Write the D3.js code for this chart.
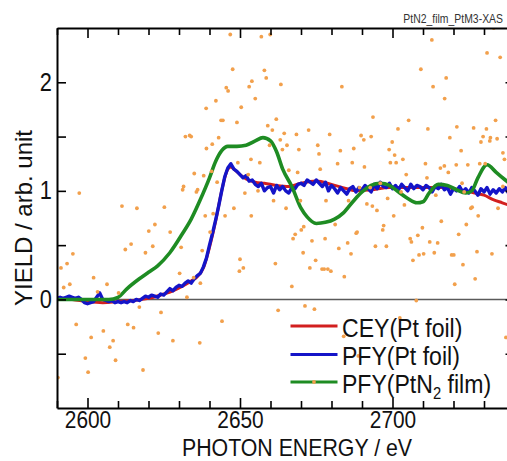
<!DOCTYPE html>
<html>
<head>
<meta charset="utf-8">
<script src="https://cdn.jsdelivr.net/npm/d3@7"></script>
<style>
  body { margin: 0; background: #fff; }
  svg { display: block; }
  text { font-family: "Liberation Sans", Arial, sans-serif; }
</style>
</head>
<body>
<svg id="chart"></svg>
<script>
// values
const xTickLabels = [2600, 2650, 2700];
const yTickLabels = [0, 1, 2];
const seriesNames = ["CEY(Pt foil)", "PFY(Pt foil)", "PFY(PtN2 film)"];

// CEY(Pt foil) - smooth red trace  [eV, yield]
const ceyPtFoil = [
  [2590,0.01],[2595,0.0],[2600,-0.02],[2605,-0.03],[2610,-0.02],[2615,-0.01],[2620,0.01],
  [2625,0.05],[2628,0.08],[2631,0.12],[2634,0.17],[2636,0.21],[2638,0.29],[2640,0.48],
  [2642,0.72],[2644,1.0],[2645,1.12],[2646,1.2],[2647,1.22],[2648,1.2],[2650,1.15],
  [2652,1.11],[2655,1.08],[2658,1.07],[2662,1.05],[2666,1.04],[2670,1.07],[2675,1.09],
  [2680,1.06],[2685,1.02],[2688,1.0],[2693,1.01],[2699,1.03],[2705,1.03],[2710,1.03],
  [2716,1.03],[2720,1.02],[2724,1.0],[2727,0.98],[2730,0.96],[2733,0.92],[2736,0.89],
  [2740,0.85]
];

// PFY(Pt foil) - noisy blue trace
const pfyPtFoil = [
  [2590,0.01],[2591,0.02],[2592,0.01],[2593,0.02],[2594,0.03],[2595,0.02],[2596,0.01],
  [2597,0.02],[2598,0.0],[2599,-0.03],[2600,-0.04],[2601,-0.03],[2602,-0.02],[2603,0.02],
  [2604,0.06],[2605,0.0],[2606,-0.01],[2607,-0.02],[2608,-0.01],[2609,-0.03],[2610,-0.02],
  [2611,-0.03],[2612,-0.02],[2613,-0.03],[2614,-0.01],[2615,-0.02],[2616,0.0],[2617,-0.01],
  [2618,0.01],[2619,0.03],[2620,0.02],[2621,0.04],[2622,0.03],[2623,0.02],[2624,0.05],
  [2625,0.04],[2626,0.07],[2627,0.10],[2628,0.08],[2629,0.11],[2630,0.13],[2631,0.12],
  [2632,0.15],[2633,0.17],[2634,0.15],[2635,0.19],[2636,0.22],[2637,0.24],[2638,0.30],
  [2639,0.38],[2640,0.50],[2641,0.61],[2642,0.73],[2643,0.86],[2644,1.00],[2645,1.13],
  [2646,1.21],[2647,1.25],[2648,1.20],[2649,1.18],[2650,1.15],[2651,1.12],[2652,1.14],
  [2653,1.09],[2654,1.10],[2655,1.06],[2656,1.04],[2657,1.07],[2658,1.00],[2659,1.03],
  [2660,1.04],[2661,0.98],[2662,1.05],[2663,1.01],[2664,1.04],[2665,1.00],[2666,0.98],
  [2667,1.03],[2668,1.02],[2669,1.06],[2670,1.07],[2671,1.05],[2672,1.10],[2673,1.08],
  [2674,1.06],[2675,1.10],[2676,1.07],[2677,1.04],[2678,1.08],[2679,1.00],[2680,1.05],
  [2681,1.02],[2682,0.98],[2683,1.03],[2684,1.00],[2685,0.97],[2686,1.02],[2687,1.04],
  [2688,0.99],[2689,1.03],[2690,1.01],[2691,1.05],[2692,1.02],[2693,0.99],[2694,1.06],
  [2695,1.02],[2696,1.08],[2697,1.04],[2698,1.03],[2699,1.07],[2700,1.02],[2701,1.05],
  [2702,1.01],[2703,1.06],[2704,1.03],[2705,1.00],[2706,1.06],[2707,1.02],[2708,1.05],
  [2709,1.04],[2710,1.01],[2711,1.05],[2712,1.03],[2713,0.99],[2714,1.04],[2715,1.02],
  [2716,1.06],[2717,1.01],[2718,1.03],[2719,0.97],[2720,1.02],[2721,1.00],[2722,1.04],
  [2723,0.99],[2724,1.02],[2725,0.98],[2726,1.03],[2727,1.00],[2728,0.96],[2729,1.02],
  [2730,0.99],[2731,1.03],[2732,0.97],[2733,1.01],[2734,0.98],[2735,1.02],[2736,0.99],
  [2737,1.03],[2738,0.98],[2739,1.01],[2740,1.00]
];

// PFY(PtN2 film) - smoothed green trace
const pfyPtN2Film = [
  [2590,0],[2600,0],[2607,0],[2610,0.02],[2613,0.1],[2617,0.19],[2620,0.25],[2623,0.31],
  [2627,0.43],[2631,0.6],[2634,0.74],[2637,0.92],[2640,1.12],[2642,1.27],[2644,1.37],
  [2646,1.41],[2649,1.41],[2652,1.42],[2655,1.46],[2657.5,1.49],[2660,1.46],[2662,1.36],
  [2664,1.2],[2667,1.04],[2670,0.84],[2672,0.76],[2675,0.70],[2678,0.71],[2681,0.74],
  [2684,0.80],[2687,0.90],[2690,0.99],[2693,1.05],[2696,1.07],[2699,1.05],[2702,0.99],
  [2705,0.93],[2708,0.89],[2710,0.90],[2712,0.98],[2715,1.06],[2718,1.05],[2721,1.01],
  [2724,0.98],[2726,1.00],[2728,1.12],[2731,1.24],[2734,1.17],[2737,1.10],[2740,1.03]
];

// PFY(PtN2 film) raw points - orange dots
const pfyPtN2Raw = [
  [2638.9,1.76],[2632.1,1.50],[2633.5,1.51],[2634.0,1.50],[2639.0,1.39],[2635.0,1.16],
  [2638.1,1.14],[2631.5,1.04],[2631.2,1.01],[2635.7,0.99],[2636.1,1.01],[2597.3,0.98],
  [2611.3,0.86],[2616.2,0.84],[2625.2,0.85],[2622.1,0.69],[2620.1,0.63],[2627.1,0.62],
  [2614.3,0.51],[2612.4,0.46],[2619.0,0.43],[2621.4,0.49],[2630.7,0.48],[2637.6,0.45],
  [2595.2,0.42],[2593.3,0.33],[2591.3,0.29],[2602.0,0.20],[2606.4,0.14],[2594.2,0.14],
  [2592.2,0.11],[2630.2,0.24],[2634.8,0.20],[2637.0,0.15],[2603.3,0.07],[2610.2,0.06],
  [2632.6,0.02],[2617.0,-0.07],[2624.1,-0.12],[2596.3,-0.23],[2613.2,-0.23],[2615.1,-0.26],
  [2605.2,-0.29],[2623.2,-0.31],[2601.2,-0.35],[2608.4,-0.38],[2607.3,-0.44],[2628.0,-0.38],
  [2636.8,-0.40],[2599.3,-0.54],[2609.2,-0.56],[2600.2,-0.67],[2618.2,-0.65],[2590.3,-0.72],
  [2640.7,1.18],[2638.6,0.77],[2641.2,0.79],[2645.1,0.77],[2648.0,0.84],[2651.6,0.98],
  [2652.7,1.15],[2649.3,1.26],[2640.2,0.62],[2650.0,0.37],[2651.1,0.29],[2649.8,0.26],
  [2646.8,2.44],[2657.0,2.42],[2659.9,2.44],[2647.6,2.12],[2658.0,2.11],[2658.6,2.04],
  [2653.9,2.01],[2653.0,1.96],[2663.4,1.98],[2645.5,1.95],[2646.1,1.92],[2683.4,1.96],
  [2655.0,1.85],[2642.1,1.83],[2650.4,1.77],[2643.8,1.65],[2644.4,1.65],[2649.0,1.63],
  [2661.9,1.66],[2659.1,1.60],[2660.6,1.56],[2672.5,1.56],[2664.5,1.53],[2668.5,1.52],
  [2679.4,1.52],[2643.0,1.49],[2663.2,1.47],[2640.9,1.43],[2665.4,1.42],[2659.7,1.42],
  [2675.5,1.42],[2663.9,1.38],[2669.3,1.38],[2682.9,1.37],[2687.3,1.39],[2675.9,1.34],
  [2653.6,1.29],[2656.5,1.26],[2682.0,1.25],[2686.8,1.26],[2666.0,1.19],[2668.9,1.17],
  [2676.3,1.20],[2642.5,1.08],[2655.9,1.00],[2661.0,0.91],[2669.8,0.91],[2678.2,0.91],
  [2665.1,0.84],[2653.7,0.77],[2685.6,0.91],[2712.9,2.39],[2733.2,2.50],[2731.0,2.27],
  [2735.3,2.23],[2709.3,2.12],[2717.6,2.04],[2713.3,1.96],[2717.1,1.85],[2693.6,1.68],
  [2705.3,1.65],[2701.8,1.57],[2711.6,1.57],[2721.1,1.59],[2726.6,1.58],[2730.8,1.57],
  [2733.8,1.65],[2689.7,1.51],[2690.6,1.47],[2693.0,1.50],[2699.9,1.45],[2718.8,1.49],
  [2729.7,1.50],[2732.1,1.49],[2731.9,1.46],[2729.0,1.45],[2734.3,1.48],[2698.9,1.38],
  [2700.7,1.33],[2703.4,1.29],[2722.5,1.37],[2736.2,1.35],[2699.3,1.26],[2701.2,1.26],
  [2710.8,1.25],[2720.9,1.24],[2724.7,1.24],[2728.6,1.25],[2730.4,1.25],[2736.7,1.29],
  [2690.8,1.22],[2704.5,1.15],[2711.3,1.12],[2715.7,1.21],[2717.0,1.23],[2718.3,1.17],
  [2722.8,1.07],[2696.0,1.07],[2689.2,1.03],[2692.7,1.03],[2702.8,0.99],[2736.2,1.04],
  [2698.4,0.93],[2714.2,0.96],[2723.5,0.99],[2691.6,0.88],[2693.4,0.86],[2694.9,0.82],
  [2703.9,0.87],[2726.1,0.85],[2725.7,0.84],[2734.6,0.84],[2700.4,0.77],[2728.1,0.77],
  [2661.6,0.33],[2667.0,0.12],[2644.1,-0.20],[2662.5,-0.10],[2671.3,-0.06],[2674.4,-0.09],
  [2684.0,-0.34],[2667.4,0.56],[2668.1,0.60],[2670.1,0.64],[2670.9,0.67],[2673.6,0.54],
  [2677.9,0.56],[2670.7,0.43],[2674.8,0.36],[2672.9,0.29],[2676.9,0.28],[2677.6,0.28],
  [2678.8,0.28],[2679.8,0.26],[2682.4,0.47],[2685.3,0.52],[2686.4,0.42],[2684.2,0.21],
  [2688.1,0.61],[2681.2,0.69],[2688.4,0.62],[2697.1,0.68],[2696.8,0.64],[2694.4,0.49],
  [2698.0,0.49],[2705.8,0.56],[2706.2,0.53],[2708.3,0.59],[2709.8,0.66],[2716.0,0.72],
  [2724.2,0.69],[2721.7,0.60],[2712.2,0.53],[2714.8,0.52],[2713.7,0.43],[2710.2,0.42],
  [2708.7,0.41],[2706.7,0.36],[2719.4,0.41],[2720.1,0.41],[2727.7,0.44],[2732.6,0.42],
  [2723.1,0.32],[2727.1,0.19],[2720.4,0.14],[2707.8,-0.01],[2702.4,-0.17],[2688.8,-0.52],
  [2737.2,-0.35]
];

const colors = { cey: "#d21f1f", pfyFoil: "#1414c8", film: "#1e8c23", raw: "#f2a04c" };

const width = 507;
const height = 461;
const plot = { left: 57, top: 28, right: 514.5, bottom: 408 }; // right axis sits just past the window
const squeeze = 0.87; // reference text is horizontally narrow

const svg = d3.select("#chart").attr("width", width).attr("height", height);

const x = d3.scaleLinear().domain([2590, 2740]).range([plot.left, plot.right]);
const y = d3.scaleLinear().domain([-1, 2.5]).range([plot.bottom, plot.top]);

svg.append("defs").append("clipPath").attr("id", "plotClip")
  .append("rect")
  .attr("x", plot.left).attr("y", plot.top)
  .attr("width", plot.right - plot.left).attr("height", plot.bottom - plot.top);

const g = svg.append("g").attr("clip-path", "url(#plotClip)");

// zero line
g.append("line")
  .attr("x1", x(2590)).attr("x2", x(2740))
  .attr("y1", y(0)).attr("y2", y(0))
  .attr("stroke", "#5a5a5a")
  .attr("stroke-width", 1.6);

const line = d3.line().x((d) => x(d[0])).y((d) => y(d[1]));

g.append("path").datum(ceyPtFoil)
  .attr("fill", "none").attr("stroke", colors.cey).attr("stroke-width", 3)
  .attr("d", line.curve(d3.curveMonotoneX));

g.append("path").datum(pfyPtFoil)
  .attr("fill", "none").attr("stroke", colors.pfyFoil).attr("stroke-width", 3.4)
  .attr("stroke-linejoin", "round")
  .attr("d", line.curve(d3.curveLinear));

g.append("path").datum(pfyPtN2Film)
  .attr("fill", "none").attr("stroke", colors.film).attr("stroke-width", 3.6)
  .attr("d", line.curve(d3.curveMonotoneX));

g.selectAll("circle.raw").data(pfyPtN2Raw).enter()
  .append("circle").attr("class", "raw")
  .attr("cx", (d) => x(d[0])).attr("cy", (d) => y(d[1]))
  .attr("r", 1.9)
  .attr("fill", colors.raw);

// axes: ticks point inward, labels only on the majors
const xTicks = d3.range(2590, 2741, 10);
const yTicks = d3.range(-1, 2.51, 0.5);

const styleAxis = (sel) => {
  sel.select(".domain").attr("stroke", "#000").attr("stroke-width", 2);
  sel.selectAll(".tick line").attr("stroke", "#000").attr("stroke-width", 1.6);
  sel.selectAll(".tick text").attr("fill", "#111").style("font-size", "25px")
    .attr("transform", `scale(${squeeze},1)`);
};

svg.append("g")
  .attr("transform", `translate(0,${plot.top})`)
  .call(d3.axisTop(x).tickValues(xTicks).tickSize(-7).tickSizeOuter(0).tickFormat(""))
  .call(styleAxis)
  .call((a) => a.selectAll(".tick line").attr("y2", (d) => (xTickLabels.includes(d) ? 10 : 7)));

svg.append("g")
  .attr("transform", `translate(0,${plot.bottom})`)
  .call(d3.axisBottom(x).tickValues(xTicks).tickSize(-7).tickSizeOuter(0).tickPadding(3)
    .tickFormat((d) => (xTickLabels.includes(d) ? d : "")))
  .call(styleAxis)
  .call((a) => a.selectAll(".tick line").attr("y2", (d) => (xTickLabels.includes(d) ? -10 : -7)))
  .call((a) => a.selectAll(".tick text").style("font-size", "24px"));

svg.append("g")
  .attr("transform", `translate(${plot.left},0)`)
  .call(d3.axisLeft(y).tickValues(yTicks.filter((d) => d > -1 && d < 2.5)).tickSize(-9)
    .tickSizeOuter(0).tickPadding(6)
    .tickFormat((d) => (yTickLabels.includes(d) ? d : "")))
  .call(styleAxis);

svg.append("g")
  .attr("transform", `translate(${plot.right},0)`)
  .call(d3.axisRight(y).tickValues(yTicks.filter((d) => d > -1 && d < 2.5)).tickSize(-9)
    .tickSizeOuter(0).tickFormat(""))
  .call(styleAxis);

// narrow text helper
const label = (px, py, size, anchor) =>
  svg.append("text")
    .attr("transform", `translate(${px},${py}) scale(${squeeze},1)`)
    .attr("text-anchor", anchor)
    .style("font-size", `${size}px`)
    .attr("fill", "#111");

label(297, 455.8, 24.5, "middle").text("PHOTON ENERGY / eV");

svg.append("text")
  .attr("transform", `translate(32,${(plot.top + plot.bottom) / 2}) rotate(-90)`)
  .attr("text-anchor", "middle")
  .style("font-size", "24px")
  .attr("fill", "#111")
  .text("YIELD / arb. unit");

label(503, 22.5, 12, "end").attr("fill", "#333").text("PtN2_film_PtM3-XAS");

// legend
const legendColors = [colors.cey, colors.pfyFoil, colors.film];
const legendRows = [326, 354.5, 382];
seriesNames.forEach((name, i) => {
  svg.append("line")
    .attr("x1", 290.5).attr("x2", 337.5)
    .attr("y1", legendRows[i]).attr("y2", legendRows[i])
    .attr("stroke", legendColors[i]).attr("stroke-width", 3);
  const t = label(342, legendRows[i] + 10.5, 26.5, "start");
  if (name.includes("N2")) {
    t.append("tspan").text("PFY(PtN");
    t.append("tspan").attr("dy", 6).style("font-size", "17px").text("2");
    t.append("tspan").attr("dy", -6).text(" film)");
  } else {
    t.text(name);
  }
});
svg.append("circle")
  .attr("cx", 314).attr("cy", legendRows[2]).attr("r", 1.9).attr("fill", colors.raw);
</script>
</body>
</html>
